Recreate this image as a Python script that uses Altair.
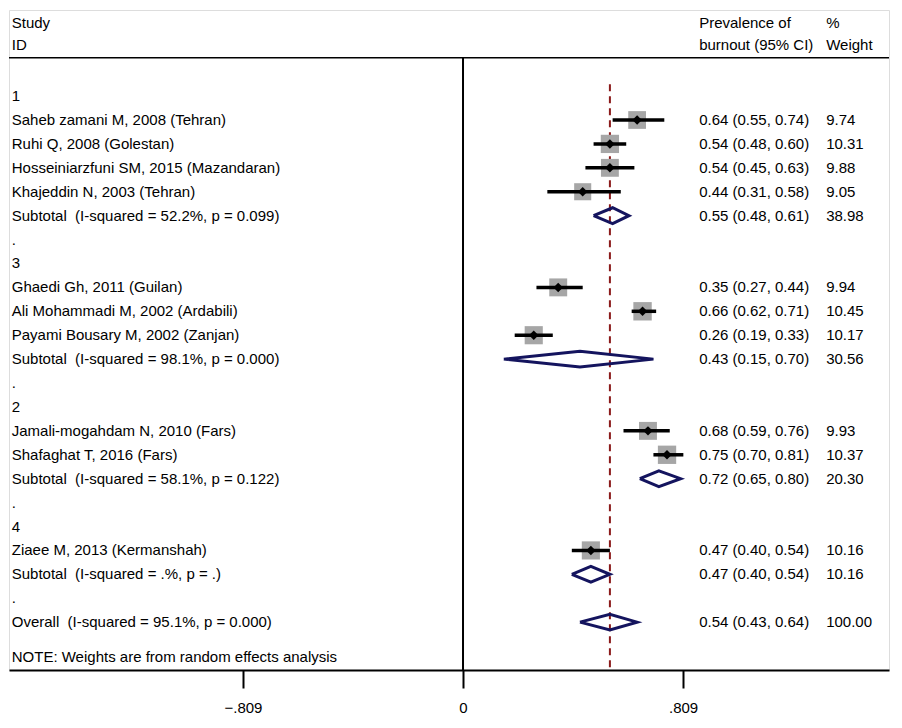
import altair as alt
import pandas as pd

labels = ["1", "Saheb zamani M, 2008 (Tehran)", "Ruhi Q, 2008 (Golestan)",
          "Hosseiniarzfuni SM, 2015 (Mazandaran)", "Khajeddin N, 2003 (Tehran)",
          "Subtotal  (I-squared = 52.2%, p = 0.099)", ".", "3",
          "Ghaedi Gh, 2011 (Guilan)", "Ali Mohammadi M, 2002 (Ardabili)",
          "Payami Bousary M, 2002 (Zanjan)", "Subtotal  (I-squared = 98.1%, p = 0.000)",
          ".", "2", "Jamali-mogahdam N, 2010 (Fars)", "Shafaghat T, 2016 (Fars)",
          "Subtotal  (I-squared = 58.1%, p = 0.122)", ".", "4",
          "Ziaee M, 2013 (Kermanshah)", "Subtotal  (I-squared = .%, p = .)", ".",
          "Overall  (I-squared = 95.1%, p = 0.000)"]
kinds = ["h", "s", "s", "s", "s", "d", "h", "h", "s", "s", "s", "d", "h", "h",
         "s", "s", "d", "h", "h", "s", "d", "h", "d"]
est = [None, 0.64, 0.54, 0.54, 0.44, 0.55, None, None, 0.35, 0.66, 0.26, 0.43,
       None, None, 0.68, 0.75, 0.72, None, None, 0.47, 0.47, None, 0.54]
lo = [None, 0.55, 0.48, 0.45, 0.31, 0.48, None, None, 0.27, 0.62, 0.19, 0.15,
      None, None, 0.59, 0.70, 0.65, None, None, 0.40, 0.40, None, 0.43]
hi = [None, 0.74, 0.60, 0.63, 0.58, 0.61, None, None, 0.44, 0.71, 0.33, 0.70,
      None, None, 0.76, 0.81, 0.80, None, None, 0.54, 0.54, None, 0.64]
weight = [None, 9.74, 10.31, 9.88, 9.05, 38.98, None, None, 9.94, 10.45, 10.17,
          30.56, None, None, 9.93, 10.37, 20.30, None, None, 10.16, 10.16, None, 100.00]
overall = 0.54
ticks = [-0.809, 0, 0.809]

D0, D1 = -1.669, 1.566
Y0, Y1 = -3.6, 24.0
FONT = "Liberation Sans"

rows = []
for i, lab in enumerate(labels):
    r = {"row": i, "label": lab.replace("  ", "\u00a0 "), "kind": kinds[i], "est": est[i], "lo": lo[i],
         "hi": hi[i], "w": weight[i], "lx": D0 + 0.01}
    if est[i] is not None:
        r["ci"] = f"{est[i]:.2f} ({lo[i]:.2f}, {hi[i]:.2f})"
        r["wt"] = f"{weight[i]:.2f}"
    rows.append(r)
df = pd.DataFrame(rows)
st = df[df.kind == "s"]
dm = df[df.kind == "d"]

poly = []
for _, r in dm.iterrows():
    pts = [(r.lo, r.row), (r.est, r.row - 0.33), (r.hi, r.row), (r.est, r.row + 0.33), (r.lo, r.row)]
    for k, (xx, yy) in enumerate(pts):
        poly.append({"g": r.row, "o": k, "x": xx, "y": yy})
poly = pd.DataFrame(poly)

xs = alt.Scale(domain=[D0, D1], nice=False, zero=False)
ys = alt.Scale(domain=[Y0, Y1], reverse=True, nice=False, zero=False)
X = lambda f: alt.X(f, type="quantitative", scale=xs,
                    axis=alt.Axis(values=ticks, labelExpr="datum.value==0?'0':replace(format(datum.value,'.3f'),'0.','.')",
                                  title=None, grid=False, domainColor="black", domainWidth=2,
                                  tickColor="black", tickWidth=2, tickSize=18, labelPadding=12,
                                  labelFont=FONT, labelFontSize=15, labelColor="black"))
Y = lambda f: alt.Y(f, type="quantitative", scale=ys, axis=None)

base = alt.Chart(df)
txt = dict(font=FONT, fontSize=15, align="left", baseline="middle", color="black")

labels_l = base.mark_text(**txt).encode(x=X("lx"), y=Y("row"), text="label")
ci_t = alt.Chart(df.dropna(subset=["est"])).mark_text(**txt).encode(
    x=X("cx"), y=Y("row"), text="ci").transform_calculate(cx="0.868")
wt_t = alt.Chart(df.dropna(subset=["est"])).mark_text(**txt).encode(
    x=X("cx"), y=Y("row"), text="wt").transform_calculate(cx="1.335")

hdr = pd.DataFrame({"t": ["Study", "ID", "Prevalence of", "burnout (95% CI)", "%", "Weight"],
                    "x": [D0 + 0.01, D0 + 0.01, 0.868, 0.868, 1.335, 1.335],
                    "y": [-3.05, -2.15, -3.05, -2.15, -3.05, -2.15]})
hdr_t = alt.Chart(hdr).mark_text(**txt).encode(x=X("x"), y=Y("y"), text="t")
note = alt.Chart(pd.DataFrame({"t": ["NOTE: Weights are from random effects analysis"],
                               "x": [D0 + 0.01], "y": [23.45]})).mark_text(**txt).encode(
    x=X("x"), y=Y("y"), text="t")

hline = alt.Chart(pd.DataFrame({"a": [D0], "b": [D1], "y": [-1.6]})).mark_rule(
    color="black", strokeWidth=1.5).encode(x=X("a"), x2="b", y=Y("y"))
zline = alt.Chart(pd.DataFrame({"x": [0], "a": [-1.6], "b": [Y1]})).mark_rule(
    color="black", strokeWidth=2).encode(x=X("x"), y=Y("a"), y2="b")
oline = alt.Chart(pd.DataFrame({"x": [overall], "a": [-0.5], "b": [Y1]})).mark_rule(
    color="#8b1a1a", strokeWidth=2, strokeDash=[7, 5]).encode(x=X("x"), y=Y("a"), y2="b")

sq = alt.Chart(st).mark_square(color="#a6a6a6", opacity=1).encode(
    x=X("est"), y=Y("row"),
    size=alt.Size("w:Q", scale=alt.Scale(domain=[9, 10.5], range=[290, 340]), legend=None))
ciln = alt.Chart(st).mark_rule(color="black", strokeWidth=3.5).encode(x=X("lo"), x2="hi", y=Y("row"))
pt = alt.Chart(st).mark_point(shape="diamond", filled=True, color="black", size=90, opacity=1).encode(
    x=X("est"), y=Y("row"))
dia = alt.Chart(poly).mark_line(color="#14145e", strokeWidth=3).encode(
    x=X("x"), y=Y("y"), detail="g:N", order="o:Q")

chart = alt.layer(hline, zline, oline, sq, ciln, pt, dia, labels_l, ci_t, wt_t, hdr_t, note).properties(
    width=880, height=660, padding={"left": 0, "top": 2, "right": 0, "bottom": 0}
).configure_view(stroke=None).configure(background="white")

chart.save("out.html", embed_options={"renderer": "svg", "actions": False})
